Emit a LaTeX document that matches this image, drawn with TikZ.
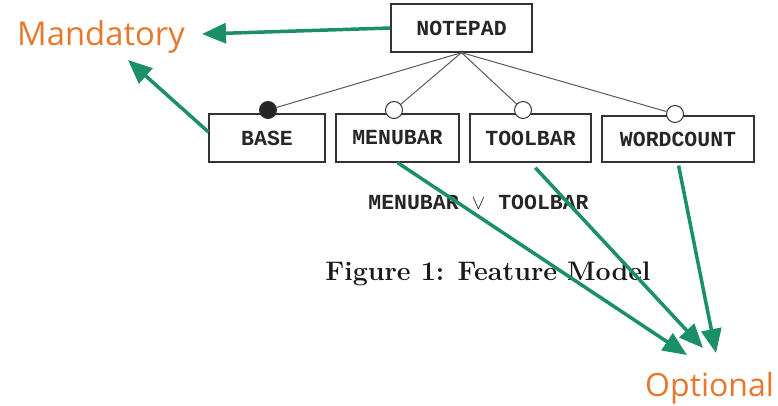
\documentclass[tikz,border=0pt]{standalone}
\usepackage{fontspec}
\setmonofont{Liberation Mono}
\newfontfamily\opensans{Open Sans}
\usetikzlibrary{arrows.meta}
\definecolor{arrowgreen}{HTML}{1B8F65}
\definecolor{labelorange}{HTML}{E8772E}
\begin{document}
\begin{tikzpicture}[x=1pt,y=-1pt,
 feat/.style={draw=black!80,line width=1.2pt,rectangle,minimum height=48pt,inner sep=0pt,font=\fontsize{21.5}{24}\selectfont\ttfamily\bfseries,text=black!85},
 optc/.style={circle,draw=black!80,line width=1pt,fill=white,minimum size=17pt,inner sep=0pt},
 mandc/.style={optc,fill=black!85},
 fedge/.style={draw=black!65,line width=1pt},
 callout/.style={draw=arrowgreen,line width=3.5pt,-{Triangle[length=24pt,width=20pt]}},
 lab/.style={text=labelorange,font=\opensans\fontsize{32.8}{36}\selectfont,inner sep=0pt,anchor=base west}]
\useasboundingbox (0,0) rectangle (778,405);

% feature boxes
\node[feat,minimum width=141pt] (notepad) at (461.5,28) {NOTEPAD};
\node[feat,minimum width=116pt] (base) at (267,138) {BASE};
\node[feat,minimum width=123pt] (menubar) at (397.5,138) {MENUBAR};
\node[feat,minimum width=121pt] (toolbar) at (530.5,138) {TOOLBAR};
\node[feat,minimum width=152pt,minimum height=46pt] (wordcount) at (678,139) {WORDCOUNT};

% circles
\node[mandc] (cb) at (268,110) {};
\node[optc] (cm) at (394,110) {};
\node[optc] (ct) at (523,110) {};
\node[optc] (cw) at (675,114) {};

\draw[fedge] (notepad.south) -- (cb);
\draw[fedge] (notepad.south) -- (cm);
\draw[fedge] (notepad.south) -- (ct);
\draw[fedge] (notepad.south) -- (cw);

% constraint and caption
\node[font=\fontsize{21.5}{24}\selectfont\ttfamily\bfseries,text=black!85,anchor=base,inner sep=0pt] (constraint) at (478.5,209) {MENUBAR $\vee$ TOOLBAR};
\node[font=\fontsize{26.8}{30}\selectfont\bfseries,text=black!90,anchor=base,inner sep=0pt] (caption) at (488,280) {Figure 1: Feature Model};

% labels
\node[lab] (mandatory) at (17,45) {Mandatory};
\node[lab,font=\opensans\fontsize{32}{36}\selectfont] (optional) at (645,396) {Optional};

% arrow targets
\coordinate (m1) at (202,34);
\coordinate (m2) at (128,60);
\coordinate (o1) at (687,355);
\coordinate (o2) at (703,348);
\coordinate (o3) at (716,353);

% callouts
\draw[callout] (notepad.west) -- (m1);
\draw[callout] ([yshift=6pt]base.west) -- (m2);
\draw[callout] (menubar.south) -- (o1);
\draw[callout,shorten <=7pt] (toolbar.south) -- (o2);
\draw[callout,shorten <=3pt] (wordcount.south) -- (o3);
\end{tikzpicture}
\end{document}
